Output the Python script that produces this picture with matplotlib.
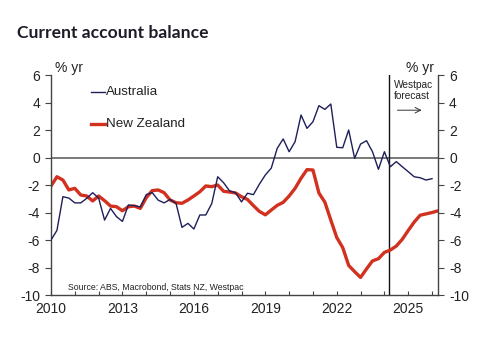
import matplotlib
matplotlib.use("Agg")
import matplotlib.pyplot as plt
import numpy as np

# Quarterly data, first point 2010.0
start_year = 2010.0
australia = [-6.0, -5.3, -2.85, -2.95, -3.3, -3.3, -2.97, -2.56, -2.95, -4.55,
             -3.7, -4.3, -4.65, -3.45, -3.5, -3.6, -2.7, -2.55, -3.1, -3.3,
             -3.05, -3.33, -5.08, -4.79, -5.2, -4.18, -4.18, -3.35, -1.4, -1.84,
             -2.43, -2.56, -3.23, -2.6, -2.7, -1.94, -1.27, -0.77, 0.67, 1.35,
             0.42, 1.15, 3.09, 2.12, 2.6, 3.77, 3.5, 3.89, 0.74, 0.71,
             2.0, -0.06, 0.98, 1.22, 0.42, -0.86, 0.42, -0.67, -0.3, -0.67,
             -1.03, -1.4, -1.47, -1.64, -1.54]
new_zealand = [-2.07, -1.4, -1.64, -2.36, -2.24, -2.73, -2.8, -3.16, -2.8, -3.14,
               -3.53, -3.58, -3.87, -3.58, -3.53, -3.7, -2.92, -2.41, -2.36, -2.56,
               -3.09, -3.29, -3.33, -3.09, -2.8, -2.49, -2.07, -2.12, -2.0, -2.46,
               -2.51, -2.58, -2.85, -3.05, -3.5, -3.92, -4.17, -3.82, -3.48, -3.26,
               -2.8, -2.24, -1.51, -0.88, -0.91, -2.58, -3.25, -4.55, -5.82, -6.55,
               -7.85, -8.3, -8.72, -8.1, -7.52, -7.36, -6.9, -6.73, -6.44, -5.95,
               -5.31, -4.7, -4.2, -4.1, -4.0, -3.88]
forecast_start = 2024.18
year_ticks = list(range(2010, 2027))
year_labels = [str(y) if (y - 2010) % 3 == 0 else "" for y in year_ticks]
y_ticks = [6, 4, 2, 0, -2, -4, -6, -8, -10]

x_au = start_year + 0.25 * np.arange(len(australia))
x_nz = start_year + 0.25 * np.arange(len(new_zealand))

plt.rcParams['font.family'] = ['Liberation Sans', 'DejaVu Sans']

fig = plt.figure(figsize=(4.88, 3.42), dpi=100)
ax = fig.add_axes([0.1045, 0.1374, 0.793, 0.6433])

navy = "#1e1f5a"
red = "#d2311f"
ax.axhline(0, color="#555555", lw=1.1, zorder=1)
ax.axvline(forecast_start, color="#111111", lw=1.0, zorder=1)
ax.plot(x_au, australia, color=navy, lw=1.0, zorder=3)
ax.plot(x_nz, new_zealand, color=red, lw=2.4, zorder=2, solid_joinstyle="round")

ax.set_xlim(2010, 2026.25)
ax.set_ylim(-10, 6)
ax.set_xticks(year_ticks)
ax.set_xticklabels(year_labels)
ax.set_yticks(y_ticks)
ax.set_yticklabels([str(v) for v in y_ticks])

ax.spines["top"].set_visible(False)
for s in ["left", "right", "bottom"]:
    ax.spines[s].set_color("#444444")
    ax.spines[s].set_linewidth(1.0)

ax.tick_params(axis="x", direction="in", length=3, color="#444444",
               labelsize=10, labelcolor="#222222", pad=5)
ax.tick_params(axis="y", direction="out", length=4, color="#444444",
               labelsize=10, labelcolor="#222222", left=True, right=True,
               labelleft=True, labelright=True, pad=4)

# axis unit labels
ax.text(0.01, 1.0, "% yr", transform=ax.transAxes, ha="left", va="bottom",
        fontsize=10, color="#222222")
ax.text(0.99, 1.0, "% yr", transform=ax.transAxes, ha="right", va="bottom",
        fontsize=10, color="#222222")

# legend (manual)
ax.plot([0.103, 0.14], [0.923, 0.923], transform=ax.transAxes, color=navy, lw=1.0)
ax.text(0.142, 0.923, "Australia", transform=ax.transAxes, ha="left", va="center",
        fontsize=9.6, color="#222222")
ax.plot([0.103, 0.14], [0.777, 0.777], transform=ax.transAxes, color=red, lw=2.4)
ax.text(0.142, 0.777, "New Zealand", transform=ax.transAxes, ha="left", va="center",
        fontsize=9.6, color="#222222")

# forecast note
ax.text(0.885, 0.93, "Westpac\nforecast", transform=ax.transAxes, ha="left",
        va="center", fontsize=7.3, color="#222222", linespacing=1.15)
ax.annotate("", xy=(0.965, 0.84), xytext=(0.888, 0.84), xycoords="axes fraction",
            arrowprops=dict(arrowstyle="->", color="#333333", lw=0.7))

ax.text(0.045, 0.033, "Source: ABS, Macrobond, Stats NZ, Westpac", transform=ax.transAxes,
        ha="left", va="center", fontsize=6.3, color="#222222")

fig.text(0.035, 0.903, "Current account balance", fontsize=12.6, fontweight="bold",
         color="#1c1c28", ha="left", va="center", family=["Lato", "DejaVu Sans"])

fig.savefig("out.png", dpi=100)
